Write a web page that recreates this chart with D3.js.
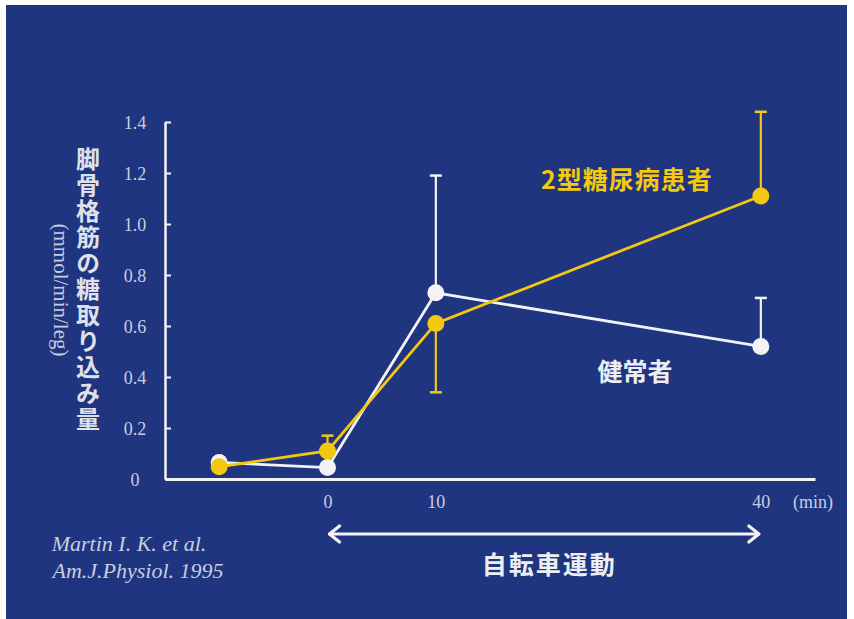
<!DOCTYPE html>
<html>
<head>
<meta charset="utf-8">
<script src="https://cdn.jsdelivr.net/npm/d3@7/dist/d3.min.js"></script>
<style>
  html, body { margin: 0; padding: 0; background: #ffffff; }
  svg { display: block; }
</style>
</head>
<body>
<svg id="chart" width="854" height="619"></svg>
<script>
// Sampling times (min); the first point is the resting value before exercise
const times = [-10, 0, 10, 40];
const xTickValues = [0, 10, 40];
const yTickValues = [0, 0.2, 0.4, 0.6, 0.8, 1.0, 1.2, 1.4];

// Leg glucose uptake (mmol/min/leg)
const healthy = [0.065, 0.045, 0.73, 0.52];
const healthyErr = [0, 0, 0.46, 0.19];
const healthyErrDir = [1, 1, 1, 1];

const diabetic = [0.048, 0.11, 0.61, 1.11];
const diabeticErr = [0, 0.06, 0.27, 0.33];
const diabeticErrDir = [1, 1, -1, 1];

const seriesNames = ["健常者", "2型糖尿病患者"];
const yLabel = "脚骨格筋の糖取り込み量";
const yUnit = "(mmol/min/leg)";
const xUnit = "(min)";
const exerciseLabel = "自転車運動";
const citation = ["Martin I. K. et al.", "Am.J.Physiol. 1995"];

const W = 854, H = 619;
const bg = "#203580";
const white = "#f3f3f6";
const yellow = "#f2c811";
const textGray = "#c9cde0";
const serif = "'Liberation Serif', 'DejaVu Serif', serif";
const cjk = "'Noto Sans CJK JP', 'Noto Sans CJK SC', sans-serif";

const svg = d3.select("#chart");

// Slide background with a thin white margin on the top, left and right
svg.append("rect").attr("x", 6).attr("y", 5).attr("width", 841).attr("height", H - 5).attr("fill", bg);

const x = d3.scaleLinear().domain([-15, 45]).range([165, 815]);
const y = d3.scaleLinear().domain([0, 1.4]).range([479, 122]);

// Y axis: ticks pointing into the plot, labels centred to the left
const yAxis = svg.append("g")
  .attr("transform", `translate(${x(-15)},0)`)
  .call(d3.axisLeft(y).tickValues(yTickValues).tickSize(-6).tickSizeOuter(0)
    .tickFormat(d => d === 0 ? "0" : d3.format(".1f")(d)));
yAxis.select(".domain").attr("stroke", white).attr("stroke-width", 2.5);
yAxis.selectAll(".tick line").attr("stroke", white).attr("stroke-width", 2);
yAxis.selectAll(".tick text")
  .attr("x", -30).attr("dy", "0.35em")
  .attr("text-anchor", "middle")
  .attr("fill", textGray)
  .style("font-family", serif).style("font-size", "18px");

// X axis: plain baseline with time labels underneath
const xAxis = svg.append("g")
  .attr("transform", `translate(0,${y(0)})`)
  .call(d3.axisBottom(x).tickValues(xTickValues).tickSize(0).tickSizeOuter(0));
xAxis.select(".domain").attr("stroke", white).attr("stroke-width", 3);
xAxis.selectAll(".tick text")
  .attr("y", 23).attr("dy", "0.35em")
  .attr("fill", textGray)
  .style("font-family", serif).style("font-size", "18px");
xAxis.append("text")
  .attr("x", x(45) - 2).attr("y", 23).attr("dy", "0.35em")
  .attr("text-anchor", "middle")
  .attr("fill", textGray)
  .style("font-family", serif).style("font-size", "18px")
  .text(xUnit);

// Y axis title, written vertically (units in the second column on the left)
svg.append("text")
  .attr("x", 88).attr("y", 147)
  .attr("fill", "#dfe1ea")
  .style("writing-mode", "vertical-rl")
  .style("text-orientation", "upright")
  .style("font-family", cjk).style("font-weight", 700)
  .style("font-size", "24px").style("letter-spacing", "2px")
  .text(yLabel);
svg.append("text")
  .attr("transform", "translate(61,290) rotate(90)")
  .attr("text-anchor", "middle").attr("dy", "0.35em")
  .attr("fill", textGray)
  .style("font-family", serif).style("font-size", "21px")
  .text(yUnit);

function drawSeries(values, errs, dirs, color) {
  const pts = times.map((t, i) => ({ t, v: values[i], e: errs[i], d: dirs[i] }));
  const g = svg.append("g");
  // one-sided error bars
  const eb = g.selectAll(".err").data(pts.filter(p => p.e > 0)).join("g");
  eb.append("line")
    .attr("x1", p => x(p.t)).attr("x2", p => x(p.t))
    .attr("y1", p => y(p.v)).attr("y2", p => y(p.v + p.d * p.e))
    .attr("stroke", color).attr("stroke-width", 2.2);
  eb.append("line")
    .attr("x1", p => x(p.t) - 6).attr("x2", p => x(p.t) + 6)
    .attr("y1", p => y(p.v + p.d * p.e)).attr("y2", p => y(p.v + p.d * p.e))
    .attr("stroke", color).attr("stroke-width", 2.5);
  g.append("path")
    .datum(pts)
    .attr("d", d3.line().x(p => x(p.t)).y(p => y(p.v)))
    .attr("fill", "none").attr("stroke", color).attr("stroke-width", 2.8);
  g.selectAll("circle").data(pts).join("circle")
    .attr("cx", p => x(p.t)).attr("cy", p => y(p.v)).attr("r", 8.5)
    .attr("fill", color);
}

drawSeries(healthy, healthyErr, healthyErrDir, white);
drawSeries(diabetic, diabeticErr, diabeticErrDir, yellow);

// Series labels
svg.append("text")
  .attr("x", 627).attr("y", 189).attr("text-anchor", "middle")
  .attr("fill", yellow)
  .style("font-family", cjk).style("font-weight", 700).style("font-size", "25px")
  .style("letter-spacing", "1px")
  .text(seriesNames[1]);
svg.append("text")
  .attr("x", 635).attr("y", 381).attr("text-anchor", "middle")
  .attr("fill", "#eceef4")
  .style("font-family", cjk).style("font-weight", 700).style("font-size", "25px")
  .text(seriesNames[0]);

// Exercise period: double-headed arrow from 0 to 40 min
const arrowY = 534;
const arrow = svg.append("g").attr("stroke", white).attr("stroke-width", 3.2)
  .attr("fill", "none").attr("stroke-linecap", "round").attr("stroke-linejoin", "round");
arrow.append("line").attr("x1", x(0) + 2).attr("x2", x(40) - 2).attr("y1", arrowY).attr("y2", arrowY);
arrow.append("path").attr("d", `M${x(0) + 12},${arrowY - 8} L${x(0) + 2},${arrowY} L${x(0) + 12},${arrowY + 8}`);
arrow.append("path").attr("d", `M${x(40) - 12},${arrowY - 8} L${x(40) - 2},${arrowY} L${x(40) - 12},${arrowY + 8}`);

svg.append("text")
  .attr("x", (x(0) + x(40)) / 2 + 5).attr("y", 574).attr("text-anchor", "middle")
  .attr("fill", "#eceef4")
  .style("font-family", cjk).style("font-weight", 700).style("font-size", "25px")
  .style("letter-spacing", "2px")
  .text(exerciseLabel);

// Reference
const citeX = [129, 138];
svg.selectAll(".cite").data(citation).join("text")
  .attr("class", "cite")
  .attr("x", (d, i) => citeX[i]).attr("y", (d, i) => 551 + i * 27)
  .attr("text-anchor", "middle")
  .attr("fill", textGray)
  .style("font-family", serif).style("font-style", "italic").style("font-size", "22px")
  .text(d => d);
</script>
</body>
</html>
